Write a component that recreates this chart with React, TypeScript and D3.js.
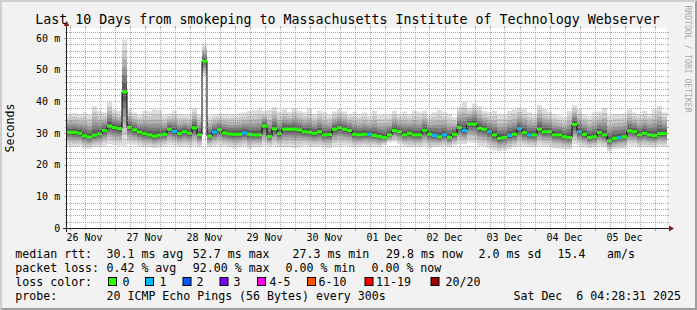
import React from 'react';
import * as d3 from 'd3';

// ---------- data ----------
const TITLE = 'Last 10 Days from smokeping to Massachusetts Institute of Technology Webserver';
const START = new Date(2025, 10, 26, 5, 0, 0);
const END = new Date(2025, 11, 6, 5, 0, 0);
const STEP_HOURS = 2;
const Y_MAX = 63.16;

// median rtt (ms), one value per 2-hour bucket
const median = [
  30.2, 30.2, 29.9, 29.1, 28.7, 29.3, 29.7, 30.8, 32.2, 31.7,
  31.4, 43.0, 31.8, 31.0, 30.3, 29.8, 29.4, 29.0, 29.3, 29.6,
  31.2, 30.5, 29.8, 30.4, 29.9, 31.6, 29.4, 52.7, 29.0, 30.3,
  31.0, 30.0, 29.7, 29.6, 29.6, 30.0, 29.6, 29.4, 29.4, 32.2,
  28.9, 31.3, 29.8, 31.2, 31.2, 31.2, 31.0, 30.4, 30.2, 29.9,
  30.4, 29.4, 29.5, 31.2, 31.7, 31.2, 30.8, 29.6, 29.4, 29.6,
  29.6, 29.2, 28.9, 28.6, 29.4, 30.8, 30.4, 29.4, 29.9, 29.4,
  29.4, 30.8, 29.6, 29.2, 28.8, 29.4, 28.6, 29.6, 31.7, 30.8,
  32.8, 32.8, 31.5, 31.2, 30.4, 29.4, 28.3, 28.6, 29.2, 29.6,
  31.3, 30.1, 29.4, 29.4, 31.2, 30.4, 30.4, 29.4, 29.4, 28.8,
  28.6, 32.7, 30.4, 29.6, 28.6, 28.8, 30.1, 29.4, 27.5, 28.3,
  28.6, 28.8, 30.7, 30.4, 29.4, 29.9, 29.4, 29.2, 29.8, 29.8,
];

// slowest ping per bucket (top of the smoke)
const smokeHi = [
  36.0, 36.3, 36.0, 36.5, 35.8, 38.5, 37.0, 36.5, 39.8, 37.5,
  37.0, 59.5, 37.5, 36.5, 35.8, 37.0, 36.8, 37.5, 37.2, 35.7,
  36.2, 37.0, 36.0, 35.8, 35.7, 37.8, 36.0, 58.2, 35.5, 35.8,
  36.2, 36.0, 35.8, 36.0, 36.2, 36.5, 37.0, 37.2, 37.5, 37.0,
  37.3, 38.3, 36.8, 37.5, 36.7, 37.8, 37.0, 36.5, 37.5, 36.0,
  37.0, 36.5, 35.8, 36.8, 37.5, 36.8, 36.0, 36.5, 36.0, 36.5,
  35.5, 37.0, 35.8, 36.0, 35.8, 37.0, 36.0, 36.8, 36.0, 37.0,
  36.5, 37.0, 35.8, 36.5, 37.2, 36.5, 36.0, 35.0, 38.2, 39.8,
  38.0, 39.3, 38.5, 37.0, 36.5, 37.0, 36.0, 35.8, 37.0, 37.5,
  38.0, 37.5, 36.5, 36.0, 38.8, 37.5, 36.8, 36.0, 35.5, 35.0,
  37.0, 38.8, 37.5, 36.0, 35.5, 36.5, 36.8, 38.0, 35.5, 36.0,
  36.0, 36.2, 37.5, 36.5, 36.0, 37.0, 36.2, 37.5, 38.5, 36.5,
];

// fastest ping per bucket (bottom of the smoke)
const smokeLo = [
  26.0, 25.6, 25.8, 25.2, 25.0, 25.5, 25.6, 26.0, 26.5, 26.2,
  26.0, 26.0, 26.5, 26.2, 25.8, 25.5, 25.6, 25.2, 25.5, 25.8,
  26.2, 26.0, 25.6, 25.8, 25.5, 26.0, 25.5, 48.0, 25.5, 25.8,
  26.0, 25.8, 25.5, 25.2, 25.5, 25.8, 25.0, 25.6, 25.5, 26.0,
  25.8, 26.0, 25.6, 25.5, 25.6, 25.2, 25.5, 26.0, 25.8, 25.5,
  25.6, 25.4, 25.2, 25.8, 26.0, 26.0, 25.8, 25.5, 25.6, 25.8,
  25.6, 25.8, 25.5, 26.2, 27.0, 27.2, 26.5, 25.8, 25.5, 25.6,
  25.5, 25.8, 25.2, 25.5, 25.6, 25.8, 25.5, 26.0, 26.5, 26.5,
  27.0, 26.8, 26.0, 25.8, 25.2, 24.5, 24.2, 24.5, 25.0, 25.5,
  26.0, 25.8, 25.6, 25.5, 26.0, 25.8, 25.8, 25.2, 25.0, 25.0,
  24.8, 26.5, 26.0, 25.5, 25.2, 25.5, 25.8, 25.5, 24.2, 24.8,
  25.0, 25.2, 26.0, 26.0, 25.5, 25.6, 25.5, 25.4, 25.8, 25.6,
];

// lost pings per bucket (out of 20)
const lost = [
  0, 0, 0, 0, 0, 0, 0, 0, 0, 0,
  0, 0, 0, 0, 0, 0, 0, 0, 0, 0,
  0, 1, 0, 0, 0, 0, 0, 0, 0, 1,
  0, 0, 0, 0, 0, 1, 0, 0, 0, 0,
  0, 0, 0, 0, 0, 0, 0, 0, 0, 0,
  0, 0, 0, 0, 0, 0, 0, 0, 0, 0,
  1, 0, 0, 0, 0, 0, 0, 0, 0, 0,
  0, 0, 0, 1, 0, 1, 0, 0, 0, 1,
  0, 0, 0, 0, 1, 0, 0, 0, 1, 0,
  1, 0, 1, 0, 0, 0, 0, 0, 0, 0,
  0, 0, 1, 0, 0, 0, 0, 0, 0, 0,
  1, 0, 0, 0, 0, 0, 0, 0, 0, 0,
];

const yMajorTicks = [0, 10, 20, 30, 40, 50, 60];
const lossLimits = [0, 1, 2, 3, 5, 10, 19, 20];
const lossLabels = ['0', '1', '2', '3', '4-5', '6-10', '11-19', '20/20'];
const lossColors = ['#26ff00', '#00b8ff', '#0059ff', '#7e00ff', '#ff00ea', '#ff5500', '#ff0000', '#a10000'];

const rttLabel = 'median rtt:';
const rttStats = ['30.1 ms avg', '52.7 ms max', '27.3 ms min', '29.8 ms now', '2.0 ms sd', '15.4', 'am/s'];
const lossLabel = 'packet loss:';
const lossStats = ['0.42 % avg', '92.00 % max', '0.00 % min', '0.00 % now'];
const lossColorLabel = 'loss color:';
const probeLabel = 'probe:';
const probeText = '20 ICMP Echo Pings (56 Bytes) every 300s';
const dateText = 'Sat Dec  6 04:28:31 2025';
const watermark = 'RRDTOOL / TOBI OETIKER';
const yTitle = 'Seconds';

// ---------- layout ----------
const W = 697, H = 310;
const X0 = 67, X1 = 667, Y0 = 228, Y1 = 28;
const MONO = '"DejaVu Sans Mono", monospace';
const rowY = [257.5, 271.5, 285.5, 299.5];
const rttX = [106.5, 192.8, 292.5, 386, 478.5, 557.5, 607];
const lossX = [106.5, 192.8, 285.5, 371.5];
const boxX = [108.5, 145.5, 183, 220, 257.5, 307.5, 365, 431];
const boxLabelX = [122.5, 159.5, 196.5, 233.5, 269.5, 318.5, 376, 445.5];
const smokeFrac = [1, 0.8, 0.62, 0.46, 0.32, 0.18];
const smokeCol = ['#dddddd', '#c8c8c8', '#b0b0b0', '#969696', '#7a7a7a', '#5c5c5c'];

const GRID = 'rgba(143,143,143,0.75)';
const MGRID = 'rgba(222,79,79,0.6)';
const AXIS = '#1f1f1f';
const ARROW = '#801f1f';

function lossColor(n: number) {
  for (let i = 0; i < lossLimits.length; i++) if (n <= lossLimits[i]) return lossColors[i];
  return lossColors[lossColors.length - 1];
}

export default function App() {
  const x = d3.scaleTime().domain([START, END]).range([X0, X1]);
  const y = d3.scaleLinear().domain([0, Y_MAX]).range([Y0, Y1]);

  const buckets = median.map((m, i) => {
    const t0 = d3.timeHour.offset(START, i * STEP_HOURS);
    const t1 = d3.timeHour.offset(START, (i + 1) * STEP_HOURS);
    return { m, hi: smokeHi[i], lo: smokeLo[i], lost: lost[i], x0: x(t0), x1: x(t1) };
  });

  const majorTimes = d3.timeDay.range(START, END);
  const minorTimes = d3.timeHour.every(6)!.range(START, END).filter(t => t.getHours() !== 0);
  const labelTimes = d3.timeDay.range(d3.timeDay.offset(START, -1), END)
    .map(t => d3.timeHour.offset(t, 12))
    .filter(t => t >= START && t <= END);
  const fmt = d3.timeFormat('%d %b');

  const yMinor = d3.range(0, Y_MAX, 2).filter(v => v % 10 !== 0);

  const stepPts: [number, number][] = buckets.map(b => [b.x0, y(b.m)]);
  stepPts.push([buckets[buckets.length - 1].x1, y(buckets[buckets.length - 1].m)]);
  const stepLine = d3.line().curve(d3.curveStepAfter)(stepPts) || '';

  const r = (v: number) => Math.round(v) + 0.5;

  return (
    <svg width={W} height={H} style={{ position: 'absolute', left: 0, top: 0 }}
      fontFamily={MONO}>
      {/* background and shade */}
      <rect x={0} y={0} width={W} height={H} fill="#f2f2f2" />
      <polygon points={`0,0 ${W},0 ${W - 2},2 2,2 2,${H - 2} 0,${H}`} fill="#cfcfcf" />
      <polygon points={`${W},0 ${W},${H} 0,${H} 2,${H - 2} ${W - 2},${H - 2} ${W - 2},2`} fill="#9e9e9e" />
      {/* canvas */}
      <rect x={X0} y={Y1} width={X1 - X0} height={Y0 - Y1} fill="#ffffff" />

      {/* smoke */}
      {smokeFrac.map((f, li) => (
        <g key={'s' + li} fill={smokeCol[li]}>
          {buckets.map((b, i) => {
            const top = y(b.m + (b.hi - b.m) * f);
            const bot = y(b.m - (b.m - b.lo) * f);
            return <rect key={i} x={b.x0} y={top} width={b.x1 - b.x0} height={Math.max(0, bot - top)} />;
          })}
        </g>
      ))}

      {/* median */}
      <path d={stepLine} fill="none" stroke="#000" strokeWidth={1} />
      {buckets.map((b, i) => (
        <rect key={'m' + i} x={b.x0} y={y(b.m) - 1.5} width={b.x1 - b.x0} height={3} fill={lossColor(b.lost)} />
      ))}

      {/* grid */}
      {minorTimes.map((t, i) => (
        <g key={'vx' + i} stroke={GRID}>
          <line x1={r(x(t))} x2={r(x(t))} y1={Y1} y2={Y0} strokeDasharray="1,1" />
          <line x1={r(x(t))} x2={r(x(t))} y1={Y0} y2={Y0 + 2} />
          <line x1={r(x(t))} x2={r(x(t))} y1={Y1 - 2} y2={Y1} />
        </g>
      ))}
      {yMinor.map((v, i) => (
        <g key={'hy' + i} stroke={GRID}>
          <line x1={X0} x2={X1} y1={r(y(v))} y2={r(y(v))} strokeDasharray="1,1" />
          <line x1={X0 - 2} x2={X0} y1={r(y(v))} y2={r(y(v))} />
          <line x1={X1} x2={X1 + 2} y1={r(y(v))} y2={r(y(v))} />
        </g>
      ))}
      {majorTimes.map((t, i) => (
        <g key={'mx' + i} stroke={MGRID}>
          <line x1={r(x(t))} x2={r(x(t))} y1={Y1} y2={Y0} strokeDasharray="1,1" />
          <line x1={r(x(t))} x2={r(x(t))} y1={Y0} y2={Y0 + 3} />
          <line x1={r(x(t))} x2={r(x(t))} y1={Y1 - 2} y2={Y1} />
        </g>
      ))}
      {yMajorTicks.filter(v => v > 0).map((v, i) => (
        <g key={'my' + i} stroke={MGRID}>
          <line x1={X0} x2={X1} y1={r(y(v))} y2={r(y(v))} strokeDasharray="1,1" />
          <line x1={X0 - 3} x2={X0} y1={r(y(v))} y2={r(y(v))} />
          <line x1={X1} x2={X1 + 2} y1={r(y(v))} y2={r(y(v))} />
        </g>
      ))}

      {/* axes */}
      <line x1={X0 - 4} x2={X1 + 3} y1={Y0 + 0.5} y2={Y0 + 0.5} stroke={AXIS} />
      <line x1={X0 - 0.5} x2={X0 - 0.5} y1={Y0 + 4} y2={Y1 - 3} stroke={AXIS} />
      <polygon points={`${X1 + 2},${Y0 - 2.5} ${X1 + 7},${Y0 + 0.5} ${X1 + 2},${Y0 + 3.5}`} fill={ARROW} />
      <polygon points={`${X0 - 3.5},${Y1 - 2} ${X0 - 0.5},${Y1 - 7} ${X0 + 2.5},${Y1 - 2}`} fill={ARROW} />

      {/* axis labels */}
      {yMajorTicks.map((v, i) => (
        <text key={'yl' + i} x={60.2} y={y(v) + 3.7} fontSize={10} textAnchor="end" fill="#000">
          {v === 0 ? '0' : `${v} m`}
        </text>
      ))}
      {labelTimes.map((t, i) => (
        <text key={'xl' + i} x={x(t)} y={241} fontSize={10} textAnchor="middle" fill="#000">{fmt(t)}</text>
      ))}

      {/* title, unit, watermark */}
      <text x={347.5} y={24} fontSize={13.3} textAnchor="middle" fill="#000">{TITLE}</text>
      <text transform="translate(13.5,128) rotate(-90)" fontSize={11.6} textAnchor="middle" fill="#000">{yTitle}</text>
      <text transform="translate(685,59) rotate(90)" fontSize={8.1} textAnchor="middle" fill="#aaaaaa">{watermark}</text>

      {/* legend */}
      <g fontSize={11.6} fill="#000" style={{ whiteSpace: 'pre' }}>
        <text x={15.3} y={rowY[0]}>{rttLabel}</text>
        {rttStats.map((s, i) => <text key={'r' + i} x={rttX[i]} y={rowY[0]}>{s}</text>)}
        <text x={15.3} y={rowY[1]}>{lossLabel}</text>
        {lossStats.map((s, i) => <text key={'l' + i} x={lossX[i]} y={rowY[1]}>{s}</text>)}
        <text x={15.3} y={rowY[2]}>{lossColorLabel}</text>
        {lossLabels.map((s, i) => (
          <g key={'b' + i}>
            <rect x={boxX[i]} y={277.5} width={8} height={8} fill={lossColors[i]} stroke="#000" strokeWidth={1} />
            <text x={boxLabelX[i]} y={rowY[2]}>{s}</text>
          </g>
        ))}
        <text x={15.3} y={rowY[3]}>{probeLabel}</text>
        <text x={106.5} y={rowY[3]}>{probeText}</text>
        <text x={681} y={rowY[3]} textAnchor="end" xmlSpace="preserve">{dateText}</text>
      </g>
    </svg>
  );
}
